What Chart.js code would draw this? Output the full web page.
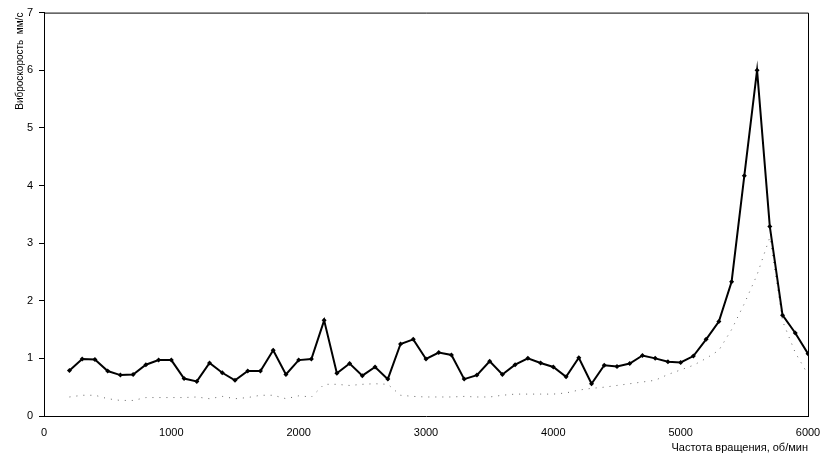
<!DOCTYPE html>
<html>
<head>
<meta charset="utf-8">
<script src="https://cdn.jsdelivr.net/npm/chart.js@4/dist/chart.umd.min.js"></script>
<style>
html,body{margin:0;padding:0;background:#fff;}
#wrap{width:834px;height:459px;}
</style>
</head>
<body>
<div id="wrap"><canvas id="c" width="834" height="459"></canvas></div>
<script>
const rpm = [200,300,400,500,600,700,800,900,1000,1100,1200,1300,1400,1500,1600,1700,1800,1900,2000,2100,2200,2300,2400,2500,2600,2700,2800,2900,3000,3100,3200,3300,3400,3500,3600,3700,3800,3900,4000,4100,4200,4300,4400,4500,4600,4700,4800,4900,5000,5100,5200,5300,5400,5500,5600,5700,5800,5900,6000];
const velocityMain = [0.79,0.99,0.98,0.78,0.71,0.72,0.89,0.97,0.97,0.65,0.60,0.92,0.75,0.62,0.78,0.78,1.14,0.72,0.97,0.99,1.66,0.74,0.91,0.70,0.85,0.64,1.25,1.33,0.99,1.10,1.06,0.64,0.71,0.95,0.72,0.89,1.00,0.92,0.85,0.68,1.01,0.56,0.88,0.86,0.91,1.05,1.00,0.94,0.93,1.04,1.33,1.64,2.33,4.17,6.00,3.29,1.75,1.44,1.08];
const velocitySecond = [0.33,0.36,0.36,0.30,0.27,0.27,0.32,0.32,0.32,0.32,0.33,0.30,0.34,0.30,0.32,0.36,0.36,0.30,0.35,0.33,0.55,0.55,0.53,0.55,0.56,0.55,0.36,0.34,0.33,0.33,0.33,0.34,0.33,0.33,0.36,0.38,0.38,0.38,0.38,0.40,0.45,0.48,0.50,0.53,0.56,0.59,0.62,0.72,0.80,0.88,1.00,1.14,1.50,1.95,2.45,3.10,1.65,1.10,0.72];
const xTicks = [0,1000,2000,3000,4000,5000,6000];
const yTicks = [0,1,2,3,4,5,6,7];

const toXY = (xs, ys) => xs.map((x,i)=>({x:x, y:ys[i]}));

const frame = {
  id:'frame',
  afterDraw(chart){
    const a = chart.chartArea, ctx = chart.ctx;
    ctx.save();
    ctx.strokeStyle = '#000';
    ctx.lineWidth = 1;
    ctx.beginPath();
    ctx.moveTo(a.left, a.top + 0.5);
    ctx.lineTo(a.right + 0.5, a.top + 0.5);
    ctx.lineTo(a.right + 0.5, a.bottom);
    ctx.stroke();
    ctx.restore();
  }
};

new Chart(document.getElementById('c'), {
  type: 'line',
  data: {
    datasets: [
      {
        data: toXY(rpm, velocityMain),
        borderColor: '#000',
        backgroundColor: '#000',
        borderWidth: 2,
        pointStyle: 'rectRot',
        pointRadius: 2.5,
        pointBorderWidth: 0,
        tension: 0,
        order: 1
      },
      {
        data: toXY(rpm, velocitySecond),
        borderColor: '#666',
        borderWidth: 1,
        borderDash: [1, 6],
        pointRadius: 0,
        tension: 0,
        order: 2
      }
    ]
  },
  plugins: [frame],
  options: {
    responsive: false,
    animation: false,
    layout: { padding: { top: 10, right: 26, left: 0, bottom: 0 } },
    plugins: { legend: { display: false }, tooltip: { enabled: false } },
    scales: {
      x: {
        type: 'linear',
        min: 0, max: 6000,
        afterBuildTicks(s){ s.ticks = xTicks.map(v=>({value:v})); },
        afterFit(s){ s.height = 43; },
        grid: { display: false, drawTicks: false },
        border: { display: true, color: '#000', width: 1 },
        ticks: { color: '#000', padding: 10, maxRotation: 0, callback: v => String(v), font: { family: 'Liberation Sans, Arial, sans-serif', size: 11 } },
        title: { display: true, text: 'Частота вращения, об/мин', align: 'end', color: '#000', padding: { top: 0, bottom: 4 }, font: { family: 'Liberation Sans, Arial, sans-serif', size: 11 } }
      },
      y: {
        min: 0, max: 7,
        afterBuildTicks(s){ s.ticks = yTicks.map(v=>({value:v})); },
        afterFit(s){ s.width = 44; },
        grid: { display: true, drawOnChartArea: false, drawTicks: true, tickLength: 5, color: '#000' },
        border: { display: true, color: '#000', width: 1 },
        ticks: { color: '#000', padding: 6, font: { family: 'Liberation Sans, Arial, sans-serif', size: 11 } },
        title: { display: true, text: 'Виброскорость  мм/с', align: 'end', color: '#000', padding: { top: 14, bottom: 0 }, font: { family: 'Liberation Sans, Arial, sans-serif', size: 10 } }
      }
    }
  }
});
</script>
</body>
</html>
